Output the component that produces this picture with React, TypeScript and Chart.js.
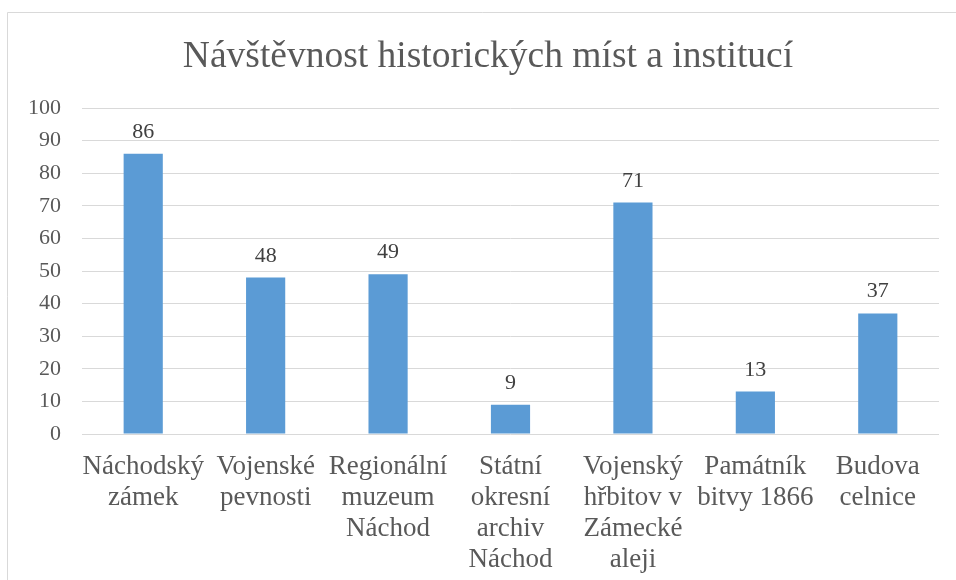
import React, { useEffect, useRef } from "react";
import { Chart, registerables } from "chart.js";

Chart.register(...registerables);

const titleText = "Návštěvnost historických míst a institucí";
const categories: string[][] = [
  ["Náchodský", "zámek"],
  ["Vojenské", "pevnosti"],
  ["Regionální", "muzeum", "Náchod"],
  ["Státní", "okresní", "archiv", "Náchod"],
  ["Vojenský", "hřbitov v", "Zámecké", "aleji"],
  ["Památník", "bitvy 1866"],
  ["Budova", "celnice"],
];
const visits: number[] = [86, 48, 49, 9, 71, 13, 37];
const yMin = 0;
const yMax = 100;
const yStep = 10;

const FONT = "'Liberation Serif', 'Times New Roman', serif";

const borderPlugin = {
  id: "outerBorder",
  beforeDraw(chart: any) {
    const ctx = chart.ctx;
    ctx.save();
    ctx.fillStyle = "#ffffff";
    ctx.fillRect(0, 0, chart.width, chart.height);
    ctx.strokeStyle = "#D9D9D9";
    ctx.lineWidth = 1;
    ctx.beginPath();
    ctx.moveTo(7.5, chart.height + 5);
    ctx.lineTo(7.5, 12.5);
    ctx.lineTo(chart.width + 5, 12.5);
    ctx.stroke();
    ctx.restore();
  },
};

const titlePlugin = {
  id: "chartTitleText",
  afterDraw(chart: any) {
    const ctx = chart.ctx;
    ctx.save();
    ctx.font = `37.5px ${FONT}`;
    ctx.fillStyle = "#595959";
    ctx.textAlign = "center";
    ctx.textBaseline = "alphabetic";
    ctx.fillText(titleText, 488, 67);
    ctx.restore();
  },
};

const dataLabelPlugin = {
  id: "barValues",
  afterDatasetsDraw(chart: any) {
    const ctx = chart.ctx;
    const meta = chart.getDatasetMeta(0);
    const data = chart.data.datasets[0].data;
    ctx.save();
    ctx.font = `22px ${FONT}`;
    ctx.fillStyle = "#404040";
    ctx.textAlign = "center";
    ctx.textBaseline = "alphabetic";
    meta.data.forEach((el: any, i: number) => {
      ctx.fillText(String(data[i]), el.x, el.y - 16);
    });
    ctx.restore();
  },
};

export default function App() {
  const ref = useRef<HTMLCanvasElement | null>(null);

  useEffect(() => {
    if (!ref.current) return;
    const chart = new Chart(ref.current, {
      type: "bar",
      data: {
        labels: categories,
        datasets: [
          {
            data: visits,
            backgroundColor: "#5B9BD5",
            borderWidth: 0,
            categoryPercentage: 1,
            barPercentage: 0.32,
          },
        ],
      },
      options: {
        animation: false,
        responsive: false,
        maintainAspectRatio: false,
        layout: { padding: { left: 0, right: 17, top: 108, bottom: 0 } },
        plugins: {
          legend: { display: false },
          tooltip: { enabled: false },
          title: { display: false },
        },
        scales: {
          x: {
            grid: { display: false },
            border: { display: false },
            ticks: {
              color: "#595959",
              font: { family: FONT, size: 27, lineHeight: 1.15 },
              padding: 9,
              autoSkip: false,
              maxRotation: 0,
              minRotation: 0,
            },
            afterFit(scale: any) {
              scale.height = 146;
            },
          },
          y: {
            min: yMin,
            max: yMax,
            grid: { color: "#D9D9D9", lineWidth: 1, drawTicks: false },
            border: { display: false },
            ticks: {
              stepSize: yStep,
              color: "#595959",
              font: { family: FONT, size: 22 },
              padding: 21,
            },
            afterFit(scale: any) {
              scale.width = 82;
            },
          },
        },
      },
      plugins: [borderPlugin, dataLabelPlugin, titlePlugin],
    });
    return () => chart.destroy();
  }, []);

  return (
    <div style={{ position: "fixed", left: 0, top: 0, width: 956, height: 580 }}>
      <canvas ref={ref} width={956} height={580} style={{ display: "block" }} />
    </div>
  );
}
